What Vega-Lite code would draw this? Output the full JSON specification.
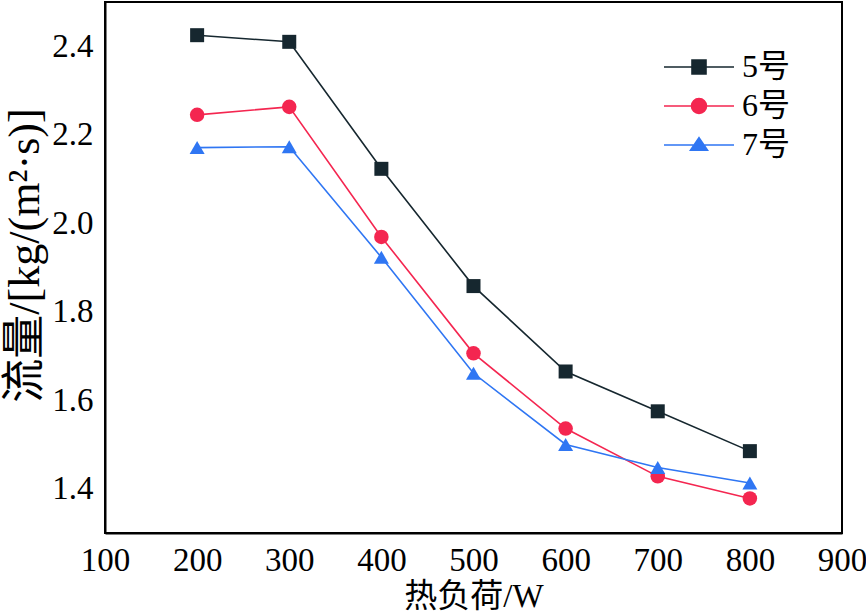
{
  "$schema": "https://vega.github.io/schema/vega-lite/v6.json",
  "autosize": {"type": "none"},
  "width": 737,
  "height": 531,
  "padding": {"left": 105, "top": 2, "right": 24, "bottom": 82},
  "background": "white",
  "config": {
    "view": {"stroke": "black", "strokeWidth": 2},
    "font": "Liberation Serif, Noto Sans CJK SC",
    "axis": {
      "grid": false,
      "domainColor": "black",
      "domainWidth": 2,
      "tickColor": "black",
      "tickWidth": 2,
      "labelFont": "Liberation Serif",
      "labelFontSize": 33,
      "labelColor": "black",
      "labelFlush": false,
      "labelOverlap": false,
      "titleFont": "Liberation Serif, Noto Sans CJK SC",
      "titleFontWeight": "normal",
      "titleColor": "black"
    }
  },
  "data": {
    "values": [
      {"load": 200, "flow": 2.425, "series": "5号"},
      {"load": 300, "flow": 2.410, "series": "5号"},
      {"load": 400, "flow": 2.123, "series": "5号"},
      {"load": 500, "flow": 1.858, "series": "5号"},
      {"load": 600, "flow": 1.665, "series": "5号"},
      {"load": 700, "flow": 1.575, "series": "5号"},
      {"load": 800, "flow": 1.485, "series": "5号"},
      {"load": 200, "flow": 2.245, "series": "6号"},
      {"load": 300, "flow": 2.263, "series": "6号"},
      {"load": 400, "flow": 1.969, "series": "6号"},
      {"load": 500, "flow": 1.706, "series": "6号"},
      {"load": 600, "flow": 1.536, "series": "6号"},
      {"load": 700, "flow": 1.428, "series": "6号"},
      {"load": 800, "flow": 1.378, "series": "6号"},
      {"load": 200, "flow": 2.171, "series": "7号"},
      {"load": 300, "flow": 2.173, "series": "7号"},
      {"load": 400, "flow": 1.923, "series": "7号"},
      {"load": 500, "flow": 1.661, "series": "7号"},
      {"load": 600, "flow": 1.500, "series": "7号"},
      {"load": 700, "flow": 1.448, "series": "7号"},
      {"load": 800, "flow": 1.413, "series": "7号"}
    ]
  },
  "encoding": {
    "x": {
      "field": "load",
      "type": "quantitative",
      "scale": {"domain": [100, 900], "nice": false, "zero": false},
      "axis": {
        "title": "热负荷/W",
        "titleFontSize": 33,
        "values": [100, 200, 300, 400, 500, 600, 700, 800, 900],
        "tickSize": 0,
        "labelPadding": 11,
        "titlePadding": 3,
        "encode": {"ticks": {"update": {"y2": {"value": -10}}}}
      }
    },
    "y": {
      "field": "flow",
      "type": "quantitative",
      "scale": {"domain": [1.3, 2.5], "nice": false, "zero": false},
      "axis": {
        "title": "流量/[kg/(m²·s)]",
        "titleFontSize": 44,
        "titleY": 253,
        "values": [1.4, 1.6, 1.8, 2.0, 2.2, 2.4],
        "format": ".1f",
        "tickSize": 0,
        "labelPadding": 12,
        "titlePadding": 4,
        "encode": {"ticks": {"update": {"x2": {"value": 12}}}}
      }
    }
  },
  "resolve": {"legend": {"color": "independent"}},
  "layer": [
    {
      "mark": {"type": "line", "strokeWidth": 1.6},
      "encoding": {
        "color": {
          "field": "series",
          "type": "nominal",
          "scale": {"domain": ["5号", "6号", "7号"], "range": ["#16272f", "#f42650", "#2f76f3"]},
          "legend": {
            "title": null,
            "orient": "none",
            "legendX": 578,
            "legendY": 49,
            "padding": 0,
            "symbolSize": 400,
            "labelFont": "Liberation Serif, Noto Sans CJK SC",
            "labelFontSize": 32,
            "labelColor": "black",
            "labelOffset": 27,
            "rowPadding": 7,
            "encode": {
              "symbols": {
                "update": {
                  "shape": {"signal": "datum.value === '5号' ? 'M-3.5,0H3.5M-0.7,-0.7H0.7V0.7H-0.7Z' : datum.value === '6号' ? 'M-3.5,0H3.5M-0.75,0A0.75,0.75,0,1,1,0.75,0A0.75,0.75,0,1,1,-0.75,0Z' : 'M-3.5,0H3.5M0,-0.73L0.85,0.53H-0.85Z'"},
                  "fill": {"signal": "scale('color', datum.value)"},
                  "stroke": {"signal": "scale('color', datum.value)"},
                  "strokeWidth": {"value": 1.6},
                  "opacity": {"value": 1},
                  "fillOpacity": {"value": 1},
                  "strokeOpacity": {"value": 1}
                }
              }
            }
          }
        }
      }
    },
    {
      "mark": {"type": "point", "filled": true, "opacity": 1},
      "encoding": {
        "color": {
          "field": "series",
          "type": "nominal",
          "scale": {"domain": ["5号", "6号", "7号"], "range": ["#16272f", "#f42650", "#2f76f3"]},
          "legend": null
        },
        "shape": {
          "field": "series",
          "type": "nominal",
          "scale": {"domain": ["5号", "6号", "7号"], "range": ["square", "circle", "triangle-up"]},
          "legend": null
        },
        "size": {
          "field": "series",
          "type": "nominal",
          "scale": {"domain": ["5号", "6号", "7号"], "range": [196, 225, 240]},
          "legend": null
        }
      }
    }
  ]
}
